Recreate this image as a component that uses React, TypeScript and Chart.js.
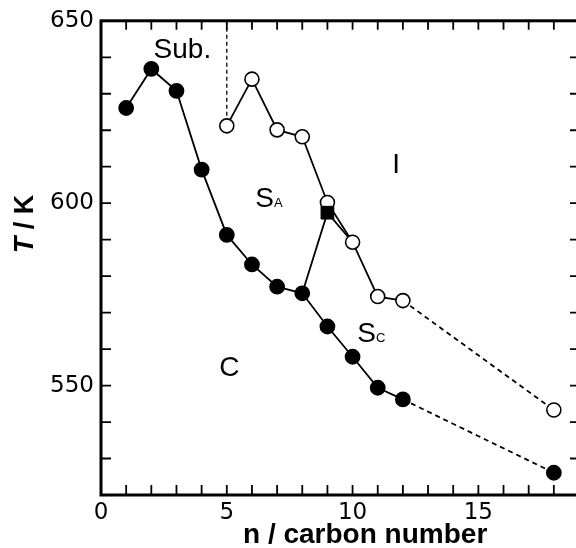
import React, { useEffect, useRef } from 'react';
import { Chart, registerables } from 'chart.js';

Chart.register(...registerables);

// ---- data (n = carbon number, T = temperature / K) ----
const nMelting = [1, 2, 3, 4, 5, 6, 7, 8, 9, 10, 11, 12];
const tMelting = [626.1, 636.8, 630.8, 609.2, 591.3, 583.2, 577.1, 575.3, 566.2, 557.9, 549.4, 546.2];
const nMeltingExt = [12, 18];
const tMeltingExt = [546.2, 526.1];

const nClearing = [5, 6, 7, 8, 9, 10, 11, 12];
const tClearing = [621.2, 634.0, 620.1, 618.2, 600.2, 589.3, 574.4, 573.3];
const nClearingExt = [12, 18];
const tClearingExt = [573.3, 543.3];

const nSmecticBoundary = [8, 9, 10];
const tSmecticBoundary = [575.3, 597.4, 589.3];
const nSquare = [9];
const tSquare = [597.4];

const nSub = [5, 5];
const tSub = [650, 621.2];

const xTickValues = [0, 5, 10, 15];
const yTickValues = [550, 600, 650];

const phaseLabels = [
  { main: 'Sub.', sub: '', n: 2.09, t: 639.9 },
  { main: 'S', sub: 'A', n: 6.13, t: 598.85 },
  { main: 'S', sub: 'C', n: 10.19, t: 561.9 },
  { main: 'C', sub: '', n: 4.7, t: 552.5 },
  { main: 'I', sub: '', n: 11.58, t: 608.4 },
];

const xTitle = 'n / carbon number';
const yTitleItalic = 'T';
const yTitleRest = ' / K';

const pts = (xs: number[], ys: number[]) => xs.map((x, i) => ({ x, y: ys[i] }));

const decorPlugin = {
  id: 'decor',
  afterDatasetsDraw(chart: any) {
    const { ctx, chartArea: a, scales } = chart;
    const xs = scales.x;
    const ys = scales.y;
    ctx.save();
    ctx.strokeStyle = '#000';
    ctx.fillStyle = '#000';
    // inward minor ticks on all four sides
    ctx.lineWidth = 1.8;
    ctx.beginPath();
    for (let v = Math.ceil(xs.min) + 1; v < xs.max; v++) {
      const px = xs.getPixelForValue(v);
      ctx.moveTo(px, a.bottom);
      ctx.lineTo(px, a.bottom - 10);
      ctx.moveTo(px, a.top);
      ctx.lineTo(px, a.top + 9);
    }
    for (let v = ys.min + 10; v < ys.max; v += 10) {
      const py = ys.getPixelForValue(v);
      ctx.moveTo(a.left, py);
      ctx.lineTo(a.left + 10, py);
      ctx.moveTo(a.right, py);
      ctx.lineTo(a.right - 9, py);
    }
    ctx.stroke();
    // frame
    ctx.lineWidth = 3;
    ctx.strokeRect(a.left, a.top, a.right - a.left, a.bottom - a.top);

    // phase labels
    ctx.textBaseline = 'alphabetic';
    ctx.textAlign = 'left';
    for (const l of phaseLabels) {
      const px = xs.getPixelForValue(l.n);
      const py = ys.getPixelForValue(l.t);
      ctx.font = '28px "Liberation Sans", Arial, sans-serif';
      ctx.fillText(l.main, px, py);
      if (l.sub) {
        const w = ctx.measureText(l.main).width;
        ctx.font = '13px "Liberation Sans", Arial, sans-serif';
        ctx.fillText(l.sub, px + w, py);
      }
    }

    // x title
    ctx.font = 'bold 28px "Liberation Sans", Arial, sans-serif';
    ctx.textAlign = 'center';
    ctx.fillText(xTitle, xs.getPixelForValue(10.5), 543);

    // y title (rotated)
    ctx.translate(33, 224);
    ctx.rotate(-Math.PI / 2);
    ctx.textAlign = 'left';
    ctx.font = 'italic bold 27px "Liberation Sans", Arial, sans-serif';
    const w1 = ctx.measureText(yTitleItalic).width;
    ctx.font = 'bold 27px "Liberation Sans", Arial, sans-serif';
    const w2 = ctx.measureText(yTitleRest).width;
    const start = -(w1 + w2) / 2;
    ctx.font = 'italic bold 27px "Liberation Sans", Arial, sans-serif';
    ctx.fillText(yTitleItalic, start, 0);
    ctx.font = 'bold 27px "Liberation Sans", Arial, sans-serif';
    ctx.fillText(yTitleRest, start + w1, 0);
    ctx.restore();
  },
};

export default function App() {
  const ref = useRef<HTMLCanvasElement>(null);
  useEffect(() => {
    if (!ref.current) return;
    const lineW = 1.8;
    const chart = new Chart(ref.current, {
      type: 'scatter',
      data: {
        datasets: [
          {
            data: pts(nSquare, tSquare),
            pointStyle: 'rect',
            pointRadius: 9,
            pointBackgroundColor: '#000',
            pointBorderColor: '#000',
            showLine: false,
            order: 0,
          },
          {
            data: pts(nMelting, tMelting),
            showLine: true,
            borderColor: '#000',
            borderWidth: lineW,
            pointRadius: 7,
            pointBackgroundColor: '#000',
            pointBorderColor: '#000',
            order: 1,
          },
          {
            data: pts(nMeltingExt, tMeltingExt),
            showLine: true,
            borderColor: '#000',
            borderWidth: lineW,
            borderDash: [5, 4],
            pointRadius: [0, 7],
            pointBackgroundColor: '#000',
            pointBorderColor: '#000',
            order: 2,
          },
          {
            data: pts(nClearing, tClearing),
            showLine: true,
            borderColor: '#000',
            borderWidth: lineW,
            pointRadius: 7,
            pointBorderWidth: 1.6,
            pointBackgroundColor: '#fff',
            pointBorderColor: '#000',
            order: 3,
          },
          {
            data: pts(nClearingExt, tClearingExt),
            showLine: true,
            borderColor: '#000',
            borderWidth: lineW,
            borderDash: [5, 4],
            pointRadius: [0, 7],
            pointBorderWidth: 1.6,
            pointBackgroundColor: '#fff',
            pointBorderColor: '#000',
            order: 4,
          },
          {
            data: pts(nSmecticBoundary, tSmecticBoundary),
            showLine: true,
            borderColor: '#000',
            borderWidth: lineW,
            pointRadius: 0,
            order: 5,
          },
          {
            data: pts(nSub, tSub),
            showLine: true,
            borderColor: '#000',
            borderWidth: 1.3,
            borderDash: [4, 3],
            pointRadius: 0,
            order: 6,
          },
        ],
      },
      options: {
        responsive: false,
        animation: false,
        events: [],
        layout: { padding: { top: 20, right: 11, left: 0, bottom: 0 } },
        plugins: { legend: { display: false }, tooltip: { enabled: false } },
        scales: {
          x: {
            type: 'linear',
            min: 0,
            max: 19,
            grid: { display: false, drawTicks: false },
            border: { display: false },
            afterBuildTicks: (s: any) => {
              s.ticks = xTickValues.map((v) => ({ value: v }));
            },
            afterFit: (s: any) => {
              s.height = 53;
            },
            ticks: {
              padding: 4,
              color: '#000',
              font: { family: '"DejaVu Sans", sans-serif', size: 23 },
              callback: (v: any) => String(v),
            },
          },
          y: {
            type: 'linear',
            min: 520,
            max: 650,
            grid: { display: false, drawTicks: false },
            border: { display: false },
            afterBuildTicks: (s: any) => {
              s.ticks = yTickValues.map((v) => ({ value: v }));
            },
            afterFit: (s: any) => {
              s.width = 101;
            },
            ticks: {
              padding: 7,
              color: '#000',
              font: { family: '"DejaVu Sans", sans-serif', size: 23 },
              callback: (v: any) => String(v),
            },
          },
        },
      },
      plugins: [decorPlugin],
    });
    return () => chart.destroy();
  }, []);

  return (
    <div
      style={{
        position: 'absolute',
        left: 0,
        top: 0,
        width: 576,
        height: 548,
        overflow: 'hidden',
        background: '#fff',
      }}
    >
      <canvas ref={ref} width={590} height={548} style={{ display: 'block' }} />
    </div>
  );
}
